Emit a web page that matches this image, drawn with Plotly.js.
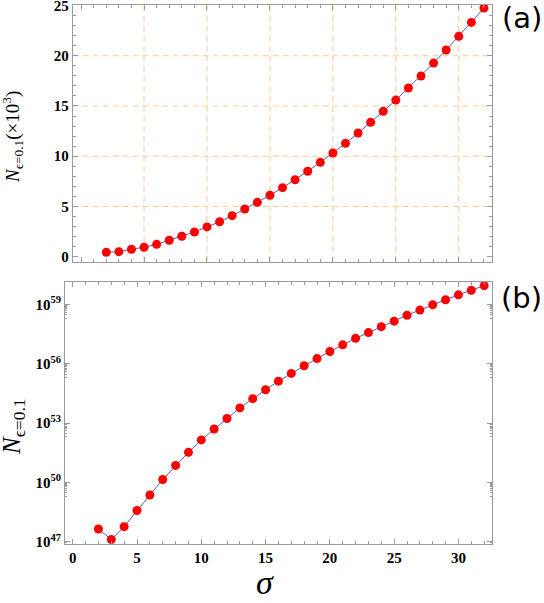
<!DOCTYPE html>
<html>
<head>
<meta charset="utf-8">
<script src="https://cdn.plot.ly/plotly-3.0.1.min.js"></script>
<style>
  body { margin: 0; background: #fff; }
  #chart { width: 544px; height: 603px; }
</style>
</head>
<body>
<div id="chart"></div>
<script>
// sigma values (shared by both panels)
const sigma = [2, 3, 4, 5, 6, 7, 8, 9, 10, 11, 12, 13, 14, 15, 16, 17,
               18, 19, 20, 21, 22, 23, 24, 25, 26, 27, 28, 29, 30, 31, 32];

// panel (a): N (x10^3)
const nThousands = [0.44, 0.50, 0.74, 0.94, 1.23, 1.63, 2.03, 2.46, 2.96, 3.48,
                    4.08, 4.75, 5.41, 6.11, 6.87, 7.66, 8.50, 9.39, 10.32, 11.28,
                    12.31, 13.37, 14.47, 15.59, 16.79, 17.98, 19.27, 20.57, 21.93,
                    23.32, 24.75];

// panel (b): N on log scale
const nLog = [4.4e47, 1.3e47, 5.8e47, 3.8e48, 2.3e49, 1.4e50, 7.2e50, 3.3e51,
              1.4e52, 5.0e52, 1.7e53, 5.8e53, 1.7e54, 4.8e54, 1.3e55, 3.2e55,
              7.8e55, 1.8e56, 4.1e56, 8.9e56, 1.9e57, 3.7e57, 7.4e57, 1.4e58,
              2.8e58, 5.1e58, 9.5e58, 1.7e59, 3.0e59, 5.1e59, 8.7e59];

const xTicks = [0, 5, 10, 15, 20, 25, 30];
const yTicksA = [0, 5, 10, 15, 20, 25];
const gridX = [5, 10, 15, 20, 25, 30];
const gridY = [5, 10, 15, 20];
const logTickExp = [47, 50, 53, 56, 59];

const logTickVals = logTickExp.map(e => Math.pow(10, e));
const logTickText = logTickExp.map(e => "<b>10<sup>" + e + "</sup></b>");
// small ticks k*10^(e-1) just under each labelled decade
let logMinor = [];
logTickExp.forEach(e => {
  for (let k = 2; k <= 9; k++) logMinor.push(k * Math.pow(10, e - 1));
});
const bold = v => v.map(t => "<b>" + t + "</b>");

const frameCol = "#9a9a9a";
const gridCol = "#ffc890";
const tickFont = {family: "Liberation Serif", size: 15, weight: "bold", color: "#000"};
const lineCol = "#5a5ab4";
const dotCol = "#ff0000";

const traces = [
  {
    x: sigma, y: nThousands, xaxis: "x2", yaxis: "y2",
    type: "scatter", mode: "lines+markers",
    line: {color: lineCol, width: 1},
    marker: {color: dotCol, size: 9},
    showlegend: false, hoverinfo: "skip"
  },
  {
    x: sigma, y: nLog, xaxis: "x", yaxis: "y",
    type: "scatter", mode: "lines+markers",
    line: {color: lineCol, width: 1},
    marker: {color: dotCol, size: 9},
    showlegend: false, hoverinfo: "skip"
  }
];

const baseAxis = {
  showline: true, linecolor: frameCol, linewidth: 1, mirror: "ticks",
  ticks: "inside", ticklen: 5, tickcolor: frameCol, tickwidth: 1,
  zeroline: false, showgrid: false, tickfont: tickFont,
  ticklabeloverflow: "allow"
};
const unitMinor = {dtick: 1, tick0: 0, ticks: "inside", ticklen: 3, tickcolor: frameCol, showgrid: false};

// dashed grid of panel (a), drawn under the data
let shapes = [];
gridX.forEach(v => shapes.push({
  type: "line", xref: "x2", yref: "y2 domain", x0: v, x1: v, y0: 0, y1: 1,
  line: {color: gridCol, width: 1, dash: "6px,4px"}, layer: "below"
}));
gridY.forEach(v => shapes.push({
  type: "line", xref: "x2 domain", yref: "y2", x0: 0, x1: 1, y0: v, y1: v,
  line: {color: gridCol, width: 1, dash: "6px,4px"}, layer: "below"
}));

const layout = {
  width: 544, height: 603,
  margin: {l: 0, r: 0, t: 0, b: 0},
  paper_bgcolor: "#fff", plot_bgcolor: "#fff",
  xaxis: Object.assign({}, baseAxis, {
    domain: [0.1195, 0.9044], range: [-0.6, 32.61],
    tickmode: "array", tickvals: xTicks, ticktext: bold(xTicks),
    minor: unitMinor, anchor: "y"
  }),
  yaxis: Object.assign({}, baseAxis, {
    domain: [0.0973, 0.5328], type: "log", range: [46.87, 60.14],
    tickmode: "array", tickvals: logTickVals, ticktext: logTickText,
    minor: {tickmode: "array", tickvals: logMinor, ticks: "inside", ticklen: 2, tickcolor: frameCol, showgrid: false},
    anchor: "x"
  }),
  xaxis2: Object.assign({}, baseAxis, {
    domain: [0.1336, 0.9044], range: [-0.67, 32.64],
    tickmode: "array", tickvals: xTicks,
    showticklabels: false,
    minor: unitMinor, anchor: "y2"
  }),
  yaxis2: Object.assign({}, baseAxis, {
    domain: [0.5660, 0.9925], range: [-0.5, 25.1],
    tickmode: "array", tickvals: yTicksA, ticktext: bold(yTicksA),
    minor: unitMinor, anchor: "x2"
  }),
  shapes: shapes,
  annotations: [
    {
      text: "<i>N</i><sub>ϵ=0.1</sub>(×10<sup>3</sup>)", textangle: -90,
      xref: "paper", yref: "paper", x: 13 / 544, y: 1 - 137 / 603,
      xanchor: "center", yanchor: "middle", showarrow: false,
      font: {family: "Liberation Serif", size: 19, color: "#000"}
    },
    {
      text: "<i>N</i><sub>ϵ=0.1</sub>", textangle: -90,
      xref: "paper", yref: "paper", x: 13 / 544, y: 1 - 427 / 603,
      xanchor: "center", yanchor: "middle", showarrow: false,
      font: {family: "Liberation Serif", size: 25, color: "#000"}
    },
    {
      text: "<i>σ</i>",
      xref: "paper", yref: "paper", x: 265 / 544, y: 0,
      xanchor: "center", yanchor: "bottom", showarrow: false,
      font: {family: "Liberation Serif", size: 34, color: "#000"}
    },
    {
      text: "(a)",
      xref: "paper", yref: "paper", x: 1, y: 1 - 18 / 603,
      xanchor: "right", yanchor: "middle", showarrow: false,
      font: {family: "DejaVu Sans", size: 29, color: "#000"}
    },
    {
      text: "(b)",
      xref: "paper", yref: "paper", x: 1, y: 1 - 298 / 603,
      xanchor: "right", yanchor: "middle", showarrow: false,
      font: {family: "DejaVu Sans", size: 29, color: "#000"}
    }
  ]
};

Plotly.newPlot("chart", traces, layout, {staticPlot: true});
</script>
</body>
</html>
